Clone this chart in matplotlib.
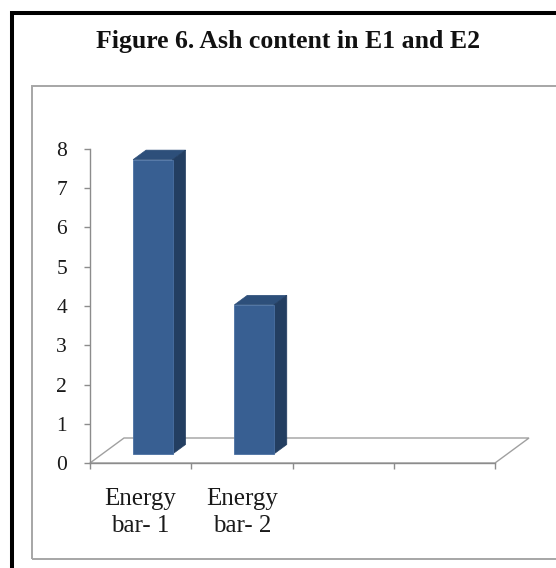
import numpy as np
import matplotlib
matplotlib.use("Agg")
import matplotlib.pyplot as plt
from matplotlib.patches import Polygon, Rectangle

# Chart data
categories = ["Energy\nbar- 1", "Energy\nbar- 2", "", ""]
ash_content = [7.5, 3.8, np.nan, np.nan]
y_ticks = [0, 1, 2, 3, 4, 5, 6, 7, 8]
title = "Figure 6. Ash content in E1 and E2"

W, H, DPI = 556, 568, 100
plt.rcParams["font.family"] = ["Liberation Serif", "DejaVu Serif"]

fig = plt.figure(figsize=(W / DPI, H / DPI), dpi=DPI)
fig.patch.set_facecolor("white")

# Outer black frame (only its left and top edges fall inside the canvas)
fig.patches.append(Rectangle((12 / W, -0.1), 2, (H - 13) / H + 0.1,
                             transform=fig.transFigure, fill=False,
                             edgecolor="black", lw=2.9, zorder=0))
# Inner grey chart-area frame
fig.patches.append(Rectangle((31.5 / W, (H - 559) / H), 2, (559 - 86) / H,
                             transform=fig.transFigure, fill=False,
                             edgecolor="#a6a6a6", lw=1.4, zorder=0))

fig.text(288 / W, (H - 48) / H, title, ha="center", va="baseline",
         fontsize=18.5, fontweight="bold", color="#111111")

# Plot area
ax_l, ax_r, ax_t, ax_b = 90, 495, 149, 463
ax = fig.add_axes([ax_l / W, (H - ax_b) / H, (ax_r - ax_l) / W, (ax_b - ax_t) / H])
ax.set_xlim(0, len(categories))
ax.set_ylim(y_ticks[0], y_ticks[-1])
ax.patch.set_alpha(0)

# Oblique depth offset of the 3-D floor, converted from pixels to data units
dx = 34 / (ax_r - ax_l) * len(categories)
dy = 25 / (ax_b - ax_t) * (y_ticks[-1] - y_ticks[0])

grey = "#8c8c8c"
n = len(categories)
floor = Polygon([(0, 0), (n, 0), (n + dx, dy), (dx, dy)], closed=True,
                facecolor="white", edgecolor="#a0a0a0", lw=1.0,
                clip_on=False, zorder=1)
ax.add_patch(floor)

# 3-D columns
bw = 0.39
d0, d1 = 0.36, 0.74
front_c, side_c, top_c = "#385f92", "#233e61", "#2d4f7a"
for i, v in enumerate(ash_content):
    if np.isnan(v):
        continue
    x0 = i + 0.5 - bw / 2
    x1 = x0 + bw
    a0, b0 = d0 * dx, d0 * dy
    a1, b1 = d1 * dx, d1 * dy
    top = Polygon([(x0 + a0, v + b0), (x1 + a0, v + b0),
                   (x1 + a1, v + b1), (x0 + a1, v + b1)],
                  closed=True, facecolor=top_c, edgecolor=top_c, lw=0.5,
                  clip_on=False, zorder=3)
    side = Polygon([(x1 + a0, b0), (x1 + a1, b1),
                    (x1 + a1, v + b1), (x1 + a0, v + b0)],
                   closed=True, facecolor=side_c, edgecolor=side_c, lw=0.5,
                   clip_on=False, zorder=3)
    front = Polygon([(x0 + a0, b0), (x1 + a0, b0),
                     (x1 + a0, v + b0), (x0 + a0, v + b0)],
                    closed=True, facecolor=front_c, edgecolor="#4a70a2", lw=0.6,
                    clip_on=False, zorder=4)
    for p in (top, side, front):
        ax.add_patch(p)

# Axes styling
for s in ("top", "right"):
    ax.spines[s].set_visible(False)
for s in ("left", "bottom"):
    ax.spines[s].set_color(grey)
    ax.spines[s].set_linewidth(1.0)
    ax.spines[s].set_zorder(2)

ax.set_yticks(y_ticks)
ax.set_yticklabels([str(t) for t in y_ticks])
ax.tick_params(axis="y", direction="out", length=4.5, width=1.0, color=grey,
               pad=12, labelsize=15.5, labelcolor="#1a1a1a")

ax.set_xticks(range(n + 1))
ax.set_xticklabels([""] * (n + 1))
ax.tick_params(axis="x", which="major", direction="out", length=4.5, width=1.0,
               color=grey)
ax.set_xticks([i + 0.5 for i in range(n)], minor=True)
ax.set_xticklabels(categories, minor=True)
ax.tick_params(axis="x", which="minor", length=0, pad=18, labelsize=18,
               labelcolor="#1a1a1a")
for lab in ax.get_xticklabels(minor=True):
    lab.set_linespacing(1.3)

fig.savefig("out.png", dpi=DPI, facecolor="white")
